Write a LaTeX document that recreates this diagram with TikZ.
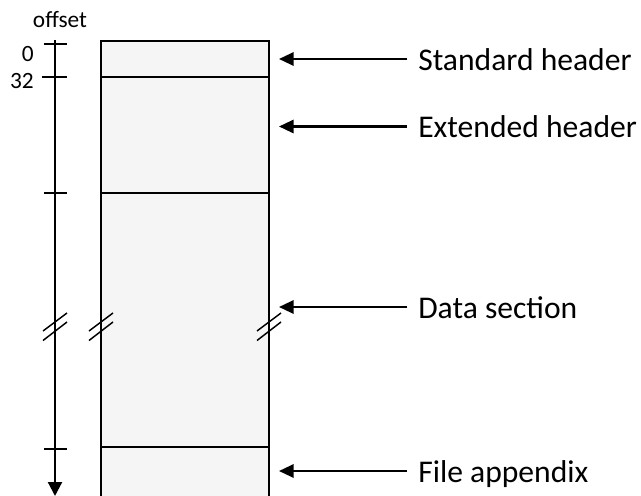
\documentclass[tikz,border=0pt]{standalone}
\usepackage{fontspec}
\setmainfont{Carlito}
\usetikzlibrary{arrows.meta}
\begin{document}
\begin{tikzpicture}[x=0.75pt,y=-0.75pt,
  axisline/.style={line width=1.6pt,black},
  boxline/.style={line width=1.6pt,black},
  segfill/.style={fill=black!4},
  tickline/.style={line width=1.6pt},
  breakmark/.style={line width=1.1pt},
  pointer/.style={line width=1.6pt,-{Triangle[length=11pt,width=10pt]}},
  bigtext/.style={font=\fontsize{23.7}{28}\selectfont,inner sep=0pt,anchor=base west},
  smalltext/.style={font=\fontsize{17.5}{21}\selectfont,inner sep=0pt}]
  \useasboundingbox (0,0) rectangle (641,495);
  \clip (0,0) rectangle (641,495);

  % file layout column
  \fill[segfill] (101,41) rectangle (269,500);
  \draw[boxline] (101,500) -- (101,41) -- (269,41) -- (269,500);
  \draw[boxline] (101,77) -- (269,77);
  \draw[boxline] (101,193) -- (269,193);
  \draw[boxline] (101,447) -- (269,447);

  % offset axis
  \coordinate (axtop) at (55,40);
  \coordinate (axbot) at (55,496);
  \draw[axisline,-{Triangle[length=10.5pt,width=10.5pt]}] (axtop) -- (axbot);
  \draw[tickline] (44,44) -- (67,44);
  \draw[tickline] (42,77) -- (67,77);
  \draw[tickline] (44,193) -- (67,193);
  \draw[tickline] (44,449) -- (67,449);

  \node[smalltext] (offlbl) at (60,20) {offset};
  \node[smalltext,anchor=east] (zero) at (34,54) {0};
  \node[smalltext,anchor=east] (thirtytwo) at (34,81) {32};

  % break marks
  \foreach \bx in {55,101,269}{
    \draw[breakmark] (\bx-12,331) -- (\bx+12,313);
    \draw[breakmark] (\bx-12,340.5) -- (\bx+12,322);
  }

  % section labels
  \node[bigtext] (std) at (418,70.5) {Standard header};
  \node[bigtext] (ext) at (418,138) {Extended header};
  \node[bigtext] (data) at (418,318.5) {Data section};
  \node[bigtext] (app) at (418,482.5) {File appendix};

  \coordinate (stdtail) at (407,59);   \coordinate (stdtip) at (279,59);
  \coordinate (exttail) at (407,126.5); \coordinate (exttip) at (279,126.5);
  \coordinate (datatail) at (407,307);  \coordinate (datatip) at (279,307);
  \coordinate (apptail) at (407,471);   \coordinate (apptip) at (279,471);
  \draw[pointer] (stdtail) -- (stdtip);
  \draw[pointer] (exttail) -- (exttip);
  \draw[pointer] (datatail) -- (datatip);
  \draw[pointer] (apptail) -- (apptip);
\end{tikzpicture}
\end{document}
